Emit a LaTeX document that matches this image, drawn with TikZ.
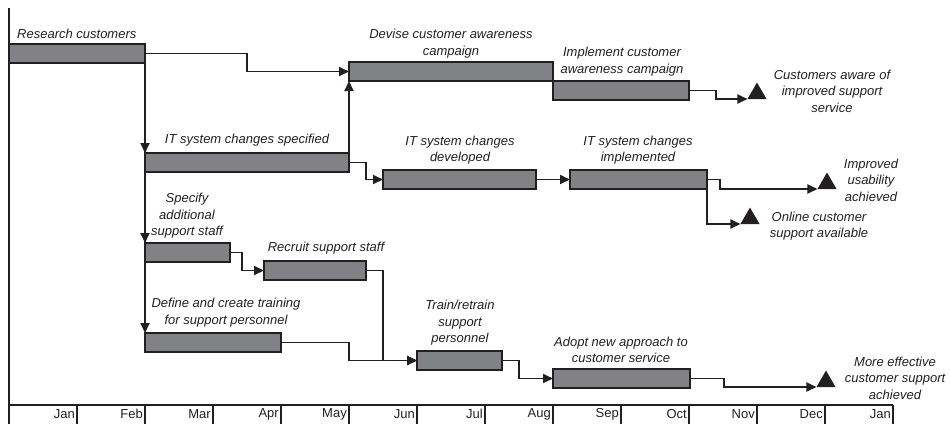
\documentclass[tikz,border=0pt]{standalone}
\usepackage{fontspec}
\setmainfont{Liberation Sans}
\usepackage{xcolor}
\usetikzlibrary{shapes.geometric, arrows.meta, positioning, calc}
\definecolor{barfill}{RGB}{128,130,133}
\definecolor{inkdark}{RGB}{35,31,32}

\begin{document}
\begin{tikzpicture}[x=1pt, y=-1pt,
  task/.style={rectangle, draw=inkdark, line width=1.6pt, fill=barfill, anchor=north west,
    inner sep=0pt, outer sep=0pt, minimum height=19pt},
  lbl/.style={font=\fontsize{13}{16.5}\selectfont\itshape, text=inkdark, align=center, inner sep=0pt},
  goal/.style={regular polygon, regular polygon sides=3, fill=inkdark, inner sep=0pt,
    outer sep=0pt, minimum size=22pt},
  link/.style={draw=inkdark, line width=1.9pt, -{Triangle[length=10pt,width=9pt]}},
  month/.style={font=\fontsize{13}{15}\selectfont, text=inkdark, anchor=east, inner sep=0pt}]
\useasboundingbox (0,0) rectangle (950,424);

% Timeline axis
\draw[inkdark, line width=1.8pt] (9,8) -- (9,424);
\draw[inkdark, line width=1.6pt] (9,405) -- (893,405);
\foreach \m [count=\i] in {Jan,Feb,Mar,Apr,May,Jun,Jul,Aug,Sep,Oct,Nov,Dec,Jan}{
  \draw[inkdark, line width=1.6pt] (9+68*\i,405) -- (9+68*\i,424);
  \node[month] (m\i) at (7+68*\i,414) {\m};
}

% Tasks
\node[task, minimum width=136pt] (research) at (9,44) {};
\node[task, minimum width=204pt] (devise) at (349,62) {};
\node[task, minimum width=136pt] (implement) at (553,81) {};
\node[task, minimum width=204pt] (specified) at (145,153) {};
\node[task, minimum width=153pt] (developed) at (383,170) {};
\node[task, minimum width=137pt] (implemented) at (570,170) {};
\node[task, minimum width=85pt] (specify) at (145,243) {};
\node[task, minimum width=102pt] (recruit) at (264,261) {};
\node[task, minimum width=136pt] (define) at (145,333) {};
\node[task, minimum width=85pt] (train) at (417,351) {};
\node[task, minimum width=137pt] (adopt) at (553,369) {};

% Milestones
\node[goal] (aware) at (757,93.5) {};
\node[goal] (usability) at (827,183.5) {};
\node[goal] (online) at (750,218.5) {};
\node[goal] (effective) at (826,381.5) {};

% Task labels
\node[lbl, anchor=west] (researchtxt) at (17,34) {Research customers};
\node[lbl] (devisetxt) at (451,43.5) {Devise customer awareness\\campaign};
\node[lbl] (implementtxt) at (622,61.5) {Implement customer\\awareness campaign};
\node[lbl] (specifiedtxt) at (247,140) {IT system changes specified};
\node[lbl] (developedtxt) at (460,150) {IT system changes\\developed};
\node[lbl] (implementedtxt) at (638,150) {IT system changes\\implemented};
\node[lbl] (specifytxt) at (187,216) {Specify\\additional\\support staff};
\node[lbl] (recruittxt) at (326,248) {Recruit support staff};
\node[lbl] (definetxt) at (226,312.5) {Define and create training\\for support personnel};
\node[lbl] (traintxt) at (460,323) {Train/retrain\\support\\personnel};
\node[lbl] (adopttxt) at (621,350) {Adopt new approach to\\customer service};

% Milestone labels
\node[lbl] (awaretxt) at (832,91) {Customers aware of\\improved support\\service};
\node[lbl] (usabilitytxt) at (871,180) {Improved\\usability\\achieved};
\node[lbl] (onlinetxt) at (819,226) {Online customer\\support available};
\node[lbl] (effectivetxt) at (895,378) {More effective\\customer support\\achieved};

% Links
\draw[link] (research.east) -- ++(102,0) |- (devise.west);
\draw[link] (research.south east) -- (specified.north west);
\draw[link] (research.south east) -- (specify.north west);
\draw[link] (research.south east) -- (define.north west);
\draw[link] (specified.north east) -- (devise.south west);
\draw[link] (specified.east) -- ++(17,0) |- (developed.west);
\draw[link] (developed.east) -- (implemented.west);
\draw[link] (implemented.east) -- ++(13,0) |- (usability.corner 2);
\draw[link] (implemented.south east) |- (online.corner 2);
\draw[link] (implement.east) -- ++(27,0) |- (aware.corner 2);
\draw[link] (specify.east) -- ++(12,0) |- (recruit.west);
\draw[link] (recruit.east) -- ++(17,0) |- (train.west);
\draw[link] (define.east) -- ++(68,0) |- (train.west);
\draw[link] (train.east) -- ++(17,0) |- (adopt.west);
\draw[link] (adopt.east) -- ++(34,0) |- (effective.corner 2);

\end{tikzpicture}
\end{document}
